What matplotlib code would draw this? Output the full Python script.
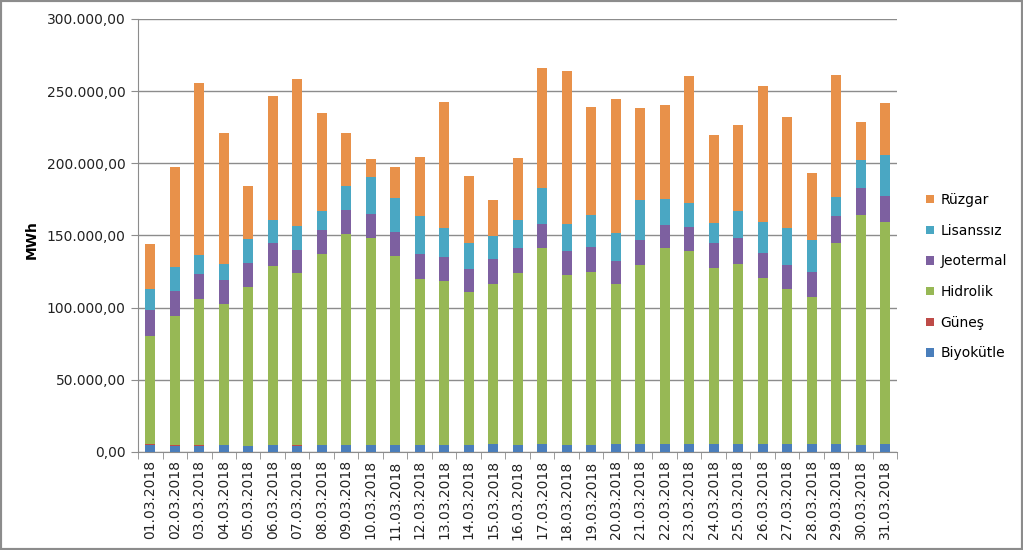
import numpy as np
import matplotlib
matplotlib.use("Agg")
import matplotlib.pyplot as plt
from matplotlib.patches import Rectangle
from matplotlib.ticker import FuncFormatter

# dates for March 2018
dates = ["%02d.03.2018" % d for d in range(1, 32)]

# daily generation values (MWh)
biyokutle = [5100, 4400, 4400, 4500, 4300, 4500, 4300, 5000, 5000, 5000,
             5000, 5000, 5000, 5000, 5200, 5000, 5200, 5000, 5000, 5200,
             5200, 5200, 5300, 5200, 5200, 5300, 5300, 5200, 5300, 5000, 5200]
gunes = [100, 100, 100, 100, 100, 100, 700, 100, 100, 100,
         100, 100, 100, 100, 100, 100, 100, 100, 100, 100,
         100, 100, 100, 100, 100, 100, 100, 100, 100, 100, 100]
# cumulative tops, converted to each source below
hidro_top = [80500, 93900, 106200, 102200, 114200, 128800, 123900, 137300, 150700, 148200,
             135900, 120000, 118400, 110600, 116600, 123900, 141000, 122800, 124900, 116100,
             129500, 141200, 139400, 127200, 130400, 120500, 112900, 107300, 144700, 164100, 159300]
jeo_top = [98300, 111500, 123000, 118900, 130900, 144900, 140100, 153900, 168000, 164600,
           152100, 136900, 134800, 126900, 133400, 141000, 157900, 139200, 141700, 132500,
           146600, 157600, 155800, 144500, 148200, 137600, 129700, 124600, 163200, 183000, 177300]
lis_top = [112900, 128300, 136400, 130400, 147700, 160600, 156700, 166900, 184400, 190200,
           176300, 163200, 154900, 144900, 149800, 160400, 183000, 157900, 164100, 151400,
           174300, 175200, 172400, 158600, 167300, 159500, 155100, 146600, 177000, 202600, 206100]
totals = [144300, 197100, 255300, 221100, 184400, 246500, 258500, 235200, 221100, 203300,
          197100, 204500, 242600, 191100, 174500, 203800, 266300, 264000, 239100, 244600,
          238000, 240500, 260800, 219300, 226600, 253600, 231900, 193600, 261300, 228300, 241900]

hidrolik = np.array(hidro_top) - np.array(biyokutle) - np.array(gunes)
jeotermal = np.array(jeo_top) - np.array(hidro_top)
lisanssiz = np.array(lis_top) - np.array(jeo_top)
ruzgar = np.array(totals) - np.array(lis_top)

series = [("Biyokütle", biyokutle, "#4A7EBB"),
          ("Güneş", gunes, "#BE4B48"),
          ("Hidrolik", hidrolik, "#97B855"),
          ("Jeotermal", jeotermal, "#7D60A0"),
          ("Lisanssız", lisanssiz, "#4AA7C3"),
          ("Rüzgar", ruzgar, "#E8914A")]

plt.rcParams["font.family"] = "DejaVu Sans"

fig = plt.figure(figsize=(10.23, 5.5), dpi=100)
ax = fig.add_axes([0.1349, 0.1782, 0.7424, 0.7873])

x = np.arange(len(dates))
bottom = np.zeros(len(dates))
handles = []
for name, vals, color in series:
    vals = np.asarray(vals, dtype=float)
    b = ax.bar(x, vals, 0.4, bottom=bottom, color=color, label=name, zorder=3)
    handles.append(b)
    bottom += vals

ax.set_xlim(-0.5, len(dates) - 0.5)
ax.set_ylim(0, 300000)
ax.set_yticks(np.arange(0, 300001, 50000))
ax.yaxis.set_major_formatter(FuncFormatter(
    lambda v, p: "{:,.2f}".format(v).replace(",", "X").replace(".", ",").replace("X", ".")))
ax.grid(axis="y", color="#8c8c8c", linewidth=1, zorder=0)

ax.set_xticks(x)
ax.set_xticklabels(dates, rotation=90, fontsize=10, color="#222222")
ax.set_xticks(np.arange(-0.5, len(dates), 1), minor=True)
ax.tick_params(axis="x", which="major", length=0, pad=6)
ax.tick_params(axis="x", which="minor", length=5, color="#8c8c8c", direction="out")
ax.tick_params(axis="y", length=5, color="#8c8c8c", labelsize=10, labelcolor="#222222", pad=4)

for s in ["top", "right"]:
    ax.spines[s].set_visible(False)
for s in ["left", "bottom"]:
    ax.spines[s].set_color("#8c8c8c")

fig.text(32 / 1023, 1 - 240 / 550, "MWh", rotation=90, fontsize=10, fontweight="bold",
         ha="center", va="center")

leg = fig.legend(handles[::-1], [s[0] for s in series][::-1], loc="center left",
                 bbox_to_anchor=(0.893, 0.497), frameon=False, fontsize=10,
                 handlelength=0.55, handleheight=0.55, handletextpad=0.5, labelspacing=1.2)

# outer chart border
fig.patches.append(Rectangle((0, 0), 1, 1, transform=fig.transFigure, fill=False,
                             edgecolor="#8c8c8c", linewidth=3))

fig.savefig("out.png", dpi=100)
